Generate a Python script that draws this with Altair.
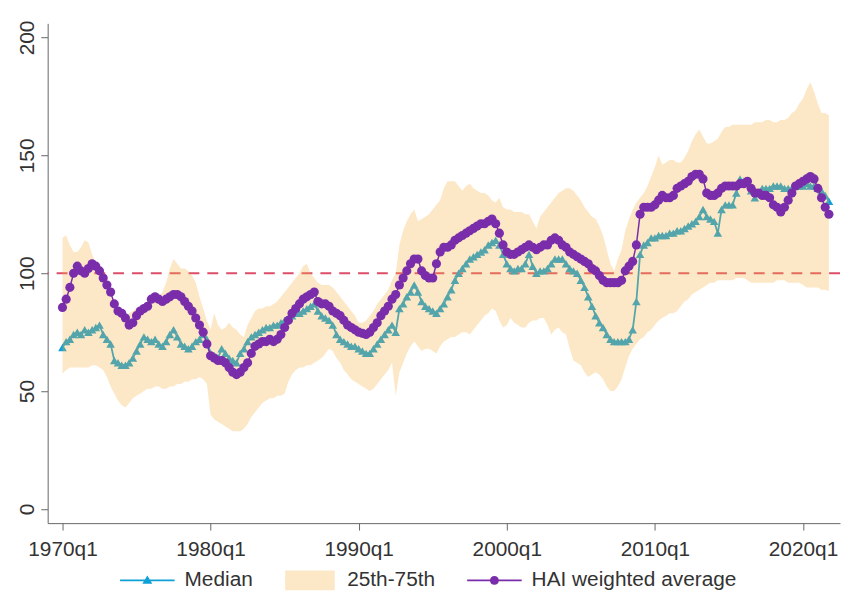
import altair as alt
import pandas as pd

# ---------------- data ----------------
years = list(range(1970, 2022))
quarters = [f"{y}q{q}" for y in years for q in range(1, 5)]

median = [
    68.5, 71, 72, 74,   75, 74, 76, 75,   76, 77, 78, 74,   72, 70, 63, 62,
    61, 61, 62, 64,     67, 70, 73, 72,   71, 72, 70, 69,   71, 74, 76, 73,
    70, 69, 68, 69,     71, 72, 74, 72,   66, 65, 64, 68,   66, 64, 63, 62,
    66, 68, 71, 73,     74, 75, 76, 77,   77, 78, 78, 79,   80, 81, 82, 83,
    83, 84, 85, 86,     87, 84, 82, 81,   80, 78, 74, 72,   71, 70, 69, 69,
    68, 67, 66, 66,     68, 70, 72, 74,   76, 78, 75, 85,   87, 90, 92, 95,
    92, 88, 86, 85,     84, 83, 85, 87,   90, 93, 97, 100,  102, 104, 106, 107,
    108, 109, 110, 112, 113, 114, 112, 108, 104, 102, 101, 102, 102, 104, 108, 103,
    100, 101, 101, 102, 104, 106, 106, 106, 104, 102, 101, 100, 97, 94, 90, 86,
    82, 79, 77, 74,     72, 71, 71, 71,   71, 72, 76, 88,   108, 112, 113, 115,
    115, 116, 116, 116, 117, 117, 118, 118, 119, 120, 121, 122, 124, 127, 124, 123,
    122, 117, 127, 129, 129, 129, 134, 140, 139, 138, 135, 132, 134, 136, 136, 136,
    137, 137, 137, 136, 136, 136, 137, 137, 137, 138, 137, 137, 136, 135, 133, 130.5,
]

p25 = [
    57.5, 59, 60, 60,   60, 60, 60, 60,   61, 61, 60, 59,   56, 52, 49, 46,
    44, 43, 45, 47,     48, 49, 50, 51,   51, 52, 52, 51,   51, 52, 52, 53,
    53, 54, 54, 55,     55, 56, 55, 53,   40, 38, 37, 36,   35, 34, 33, 33,
    33, 34, 36, 39,     41, 43, 45, 46,   47, 47, 48, 48,   49, 54, 57, 59,
    60, 60, 61, 61,     62, 63, 64, 66,   68, 67, 64, 62,   59, 57, 55, 54,
    53, 52, 51, 50,     51, 53, 55, 57,   59, 62, 48, 58,   62, 66, 69, 71,
    69, 67, 68, 68,     67, 66, 69, 71,   72, 73, 73, 74,   75, 75, 74, 76,
    78, 80, 82, 83,     85, 84, 80, 77,   78, 81, 79, 78,   77, 77, 79, 80,
    80, 81, 81, 78,     74, 76, 77, 75,   74, 68, 63, 62,   61, 58, 56, 57,
    58, 57, 55, 52,     50, 50, 52, 55,   60, 65, 68, 70,   72, 73, 75, 76,
    78, 80, 81, 82,     83, 83, 84, 86,   88, 89, 91, 92,   93, 94, 95, 96,
    96, 97, 97, 97,     97, 97, 98, 98,   98, 97, 96, 96,   96, 96, 96, 96,
    96, 97, 97, 97,     96, 96, 96, 96,   95, 94, 94, 94,   94, 93, 93, 92.5,
]

p75 = [
    115, 116, 112, 109, 109, 111, 114, 113, 108, 104, 100, 96, 93, 90, 87, 84,
    81, 82, 83, 84,     85, 85, 86, 87,   87, 88, 90, 92,   96, 102, 106, 104,
    102, 102, 101, 99,  96, 90, 85, 80,   76, 83, 78, 76,   77, 79, 77, 76,
    74, 73, 78, 81,     84, 85, 85, 86,   86, 87, 88, 90,   92, 94, 96, 98,
    100, 103, 104, 100, 98, 96, 95, 95,   95, 94, 92, 90,   88, 86, 84, 82,
    79, 79, 80, 82,     84, 87, 89, 91,   93, 97, 100, 112, 118, 122, 125, 127,
    122, 123, 124, 125, 127, 129, 131, 136, 139, 139, 139, 137, 135, 137, 138, 136,
    135, 134, 134, 133, 131, 130, 132, 128, 127, 127, 126, 126, 126, 125, 125, 122,
    119, 124, 126, 128, 130, 132, 134, 135, 136, 136, 135, 133, 131, 128, 126, 124,
    123, 120, 116, 110, 104, 101, 106, 110, 118, 123, 127, 130, 132, 134, 137, 141,
    145, 150, 146, 147, 148, 148, 147, 147, 149, 152, 156, 159, 161, 158, 155, 155,
    156, 157, 160, 162, 162, 163, 163, 163, 163, 163, 163, 164, 164, 164, 165, 165,
    164, 164, 165, 165, 166, 168, 169, 172, 174, 178, 181, 177, 172, 168, 168, 167,
]

hai = [
    85.5, 89, 94, 100,  103, 101, 100, 102, 104, 103, 101, 98,  95, 92, 87, 84,
    83, 81, 78, 79,     82, 84, 85, 86,   89, 90, 89, 88,   89, 90, 91, 91,
    90, 88, 86, 84,     81, 78, 75, 70,   65, 64, 63, 63,   62, 60, 58, 57,
    58, 60, 62, 66,     69, 70, 71, 71,   72, 71, 72, 74,   77, 80, 83, 85,
    87, 89, 90, 91,     92, 88, 87, 87,   86, 84, 83, 82,   80, 78, 77, 76,
    75, 74.5, 74, 75,   77, 79, 82, 84,   86, 89, 91, 95,   98, 101, 104, 106,
    106, 101, 99, 98,   98, 104, 109, 111, 111, 112, 114, 115, 116, 117, 118, 119,
    120, 121, 121, 122, 123, 121, 117, 112, 109, 108, 108, 109, 110, 111, 112, 111,
    110, 111, 112, 112, 114, 115, 114, 112, 111, 109, 108, 107, 106, 105, 104, 102,
    101, 99, 97, 96,    96, 96, 96, 97,   101, 103, 105, 112, 125, 128, 128, 128,
    129, 131, 133, 132, 132, 133, 136, 137, 138, 139, 141, 142, 142, 140, 134, 133,
    133, 134, 136, 137, 137, 137, 137, 138, 138, 139, 136, 134, 134, 133, 133, 132,
    129, 128, 126, 128, 131, 134, 137, 138, 139, 140, 141, 140, 136, 132, 128, 125,
]

series_names = ["Median", "25th-75th", "HAI weighted average"]
x_ticks = [1970, 1980, 1990, 2000, 2010, 2020]
y_ticks = [0, 50, 100, 150, 200]
reference_level = [100]

# ---------------- styling ----------------
BLUE = "#0FA0D8"
BAND = "#F5B342"
BAND_ON_WHITE = "#FCE8C6"
PURPLE = "#7A2DAA"
RED = "#DC4E6A"
FONT = "Liberation Sans"

df = pd.DataFrame({
    "q": quarters,
    "median": median,
    "p25": p25,
    "p75": p75,
    "hai": hai,
})
df["t"] = df["q"].str.slice(0, 4).astype(int) + (df["q"].str.slice(5).astype(int) - 1) / 4

xscale = alt.Scale(domain=[1969.0, 2022.5], nice=False, zero=False)
yscale = alt.Scale(domain=[-6, 206], nice=False, zero=False)

xaxis = alt.Axis(values=x_ticks, labelExpr="format(datum.value, 'd') + 'q1'", title=None,
                 grid=False, tickSize=7, labelPadding=9, labelFontSize=21, labelFont=FONT,
                 labelColor="#333333", domainColor="#666666", tickColor="#666666",
                 labelFlush=False)
yaxis = alt.Axis(values=y_ticks, title=None, grid=False, tickSize=7, labelPadding=3,
                 labelAngle=270, labelAlign="center", labelBaseline="bottom",
                 labelFontSize=21, labelFont=FONT, labelColor="#333333",
                 domainColor="#666666", tickColor="#666666")

X = alt.X("t:Q", scale=xscale, axis=xaxis)


def Y(field):
    return alt.Y(field, scale=yscale, axis=yaxis)


base = alt.Chart(df)

median_line = base.mark_line(color=BLUE, strokeWidth=1.8).encode(x=X, y=Y("median:Q"))

rule = alt.Chart(pd.DataFrame({"v": reference_level})).mark_rule(
    color=RED, strokeWidth=2, strokeDash=[11, 8]
).encode(y=Y("v:Q"))

median_pts = base.mark_point(shape="triangle-up", filled=True, color=BLUE, size=75, opacity=1).encode(
    x=X, y=Y("median:Q"))

band = base.mark_area(color=BAND, opacity=0.3).encode(x=X, y=Y("p25:Q"), y2="p75:Q")

hai_line = base.mark_line(color=PURPLE, strokeWidth=1.5).encode(x=X, y=Y("hai:Q"))
hai_pts = base.mark_circle(color=PURPLE, size=85, opacity=1).encode(x=X, y=Y("hai:Q"))

legend_paths = [
    "M-2.75,-0.08H2.75V0.08H-2.75Z M0,-0.5L0.5,0.35L-0.5,0.35Z",
    "M-2.5,-1H2.5V1H-2.5Z",
    "M-2.75,-0.08H2.75V0.08H-2.75Z M0.45,0A0.45,0.45,0,1,1,-0.45,0A0.45,0.45,0,1,1,0.45,0Z",
]
legend_colors = [BLUE, BAND_ON_WHITE, PURPLE]

leg = alt.Legend(title=None, orient="none", legendX=90, legendY=551, direction="horizontal",
                 symbolSize=400, symbolStrokeWidth=0, labelFontSize=21, labelFont=FONT,
                 labelColor="#333333", labelOffset=27, columnPadding=32, labelLimit=0)

legend_layer = alt.Chart(pd.DataFrame({"series": series_names})).mark_point(
    filled=True, opacity=1
).encode(
    color=alt.Color("series:N", scale=alt.Scale(domain=series_names, range=legend_colors), legend=leg),
    shape=alt.Shape("series:N", scale=alt.Scale(domain=series_names, range=legend_paths), legend=leg),
).transform_filter("false")

chart = alt.layer(
    median_line, rule, median_pts, band, hai_line, hai_pts, legend_layer
).properties(
    width=799, height=504,
    padding={"left": 40, "top": 13, "right": 1, "bottom": 69},
    autosize=alt.AutoSizeParams(type="none"),
).configure_view(stroke=None)

chart.save("out.html", embed_options={"renderer": "svg", "actions": False})
